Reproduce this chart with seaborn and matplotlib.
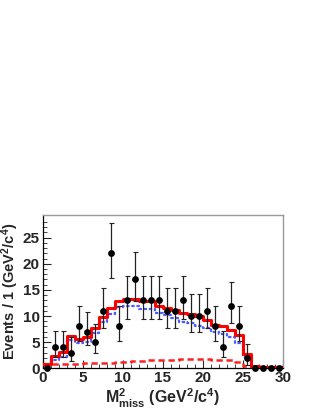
import numpy as np
import pandas as pd
import matplotlib
matplotlib.use("Agg")
import matplotlib.pyplot as plt
import seaborn as sns

# ---- data ----
bin_centers = [i + 0.5 for i in range(30)]
counts = [0, 4, 4, 3, 8, 7, 5, 11, 22, 8, 13, 17, 13, 13, 13, 11, 11, 13, 10, 10,
          11, 8, 4, 12, 8, 2, 0, 0, 0, 0]
err_lo = [0.0, 1.91, 1.91, 1.63, 2.77, 2.59, 2.16, 3.25, 4.67, 2.77, 3.52, 4.1, 3.52, 3.52, 3.52,
          3.25, 3.25, 3.52, 3.11, 3.11, 3.25, 2.77, 1.91, 3.38, 2.77, 1.29, 0, 0, 0, 0]
err_hi = [0.4, 3.16, 3.16, 2.92, 3.95, 3.77, 3.38, 4.42, 5.72, 3.95, 4.7, 5.2, 4.7, 4.7, 4.7,
          4.42, 4.42, 4.7, 4.27, 4.27, 4.42, 3.95, 3.16, 4.56, 3.95, 2.64, 0.4, 0.4, 0.4, 0.4]

bin_edges = list(range(31))
total_fit = [0.8, 2.3, 3.2, 6.2, 5.6, 6.0, 7.7, 9.8, 11.5, 12.9, 13.3, 13.3, 12.9, 12.9, 11.9,
             11.6, 11.2, 10.5, 10.3, 10.0, 9.3, 8.2, 8.0, 7.3, 6.3, 2.8, 0.4, 0.3, 0.3, 0.3]
signal = [0.6, 1.5, 2.2, 5.4, 4.8, 5.1, 6.8, 8.8, 10.4, 11.8, 12.0, 12.0, 11.4, 11.4, 10.5,
          10.2, 9.7, 8.9, 8.7, 8.1, 7.7, 7.0, 6.6, 5.9, 4.8, 2.2, 0.3, 0.2, 0.2, 0.2]
background = [0.7, 0.75, 0.8, 0.85, 0.9, 0.95, 1.0, 1.05, 1.1, 1.2, 1.3, 1.35, 1.4, 1.5, 1.55,
              1.6, 1.65, 1.7, 1.75, 1.75, 1.7, 1.65, 1.6, 1.5, 1.3, 0.4, 0.0, 0.0, 0.0, 0.0]

x_ticks = [0, 5, 10, 15, 20, 25, 30]
y_ticks = [0, 5, 10, 15, 20, 25]

sns.set_style("ticks")
plt.rcParams['font.family'] = ['Liberation Sans', 'DejaVu Sans']
plt.rcParams['mathtext.fontset'] = 'custom'
plt.rcParams['mathtext.rm'] = 'Liberation Sans:bold'
plt.rcParams['mathtext.it'] = 'Liberation Sans:bold'
plt.rcParams['mathtext.bf'] = 'Liberation Sans:bold'

fig = plt.figure(figsize=(3.16, 4.09), dpi=100)
ax = fig.add_axes([0.135, 0.0995, 0.76, 0.3745])

def stepdf(vals):
    return pd.DataFrame({"x": bin_edges, "y": list(vals) + [vals[-1]]})

sns.lineplot(data=stepdf(background), x="x", y="y", ax=ax, drawstyle="steps-post",
             color="#ff2020", lw=1.8, linestyle=(0, (2.5, 1.5)), zorder=2)
sns.lineplot(data=stepdf(signal), x="x", y="y", ax=ax, drawstyle="steps-post",
             color="#4a5cff", lw=1.6, linestyle=(0, (1.5, 0.8)), zorder=3)
sns.lineplot(data=stepdf(total_fit), x="x", y="y", ax=ax, drawstyle="steps-post",
             color="#ff0000", lw=2.2, zorder=4)

ax.errorbar(bin_centers, counts, yerr=[err_lo, err_hi], fmt="none", ecolor="#222222",
            elinewidth=0.9, capsize=1.8, capthick=0.8, zorder=5)
sns.scatterplot(x=bin_centers, y=counts, ax=ax, color="black", s=24, edgecolor="black",
                linewidth=0, zorder=6, clip_on=False)

ax.set_xlim(0, 30)
ax.set_ylim(0, 29.3)
ax.set_xticks(x_ticks)
ax.set_yticks(y_ticks)
ax.set_xticks(np.arange(0, 31, 1), minor=True)
ax.set_yticks(np.arange(0, 29, 1), minor=True)
ax.tick_params(axis="both", which="major", direction="in", length=6, width=0.8,
               labelsize=11, pad=2)
ax.tick_params(axis="both", which="minor", direction="in", length=3, width=0.6)
for lab in ax.get_xticklabels() + ax.get_yticklabels():
    lab.set_fontweight("bold")

for s in ["left", "bottom"]:
    ax.spines[s].set_color("black")
    ax.spines[s].set_linewidth(0.9)
for s in ["top", "right"]:
    ax.spines[s].set_visible(True)
    ax.spines[s].set_color("#999999")
    ax.spines[s].set_linewidth(1.0)

ax.set_xlabel(r"M$^{2}_{\rm miss}$ (GeV$^{2}$/c$^{4}$)", fontsize=11.5, fontweight="bold",
              labelpad=1)
ax.set_ylabel(r"Events / 1 (GeV$^{2}$/c$^{4}$)", fontsize=10.5, fontweight="bold")
ax.yaxis.set_label_coords(-0.09, 0.5)

fig.savefig("out.png", dpi=100)
